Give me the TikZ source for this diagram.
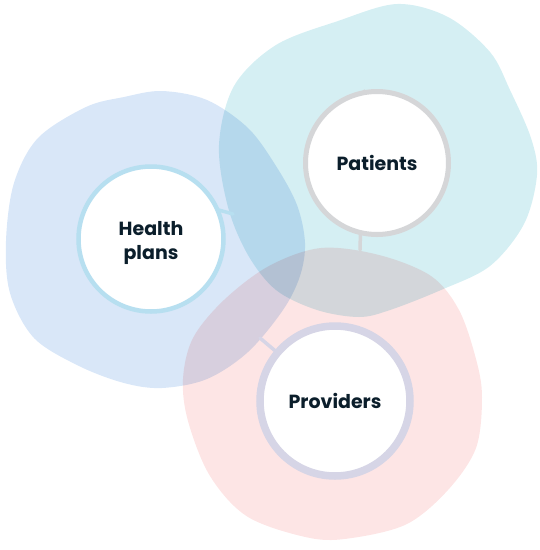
\documentclass[tikz,border=0pt]{standalone}
\usepackage{fontspec}
\setmainfont{Poppins}
\begin{document}
\begin{tikzpicture}[x=1pt, y=-1pt,
    blob/.style={blend mode=multiply, draw=none},
    hub/.style={circle, fill=white, line width=#1, inner sep=0pt, align=center,
        font=\fontsize{19}{24}\selectfont\bfseries, text=textColour},
    neck/.style={line width=3.5pt, line cap=round}]
    \definecolor{textColour}{HTML}{0B1E2B}
    \definecolor{fillBlue}{HTML}{D9E7F8}
    \definecolor{fillTeal}{HTML}{D5EFF3}
    \definecolor{fillPink}{HTML}{FDE5E5}
    \definecolor{ringBlue}{HTML}{B7DFF0}
    \definecolor{ringGrey}{HTML}{D5D6D8}
    \definecolor{ringLilac}{HTML}{D6D5E6}

    \useasboundingbox (0,0) rectangle (540,550);

    % Draw blobs
    \fill[blob, fillBlue] plot[smooth cycle, tension=0.55] coordinates {
        (162,91) (207,100) (248,128) (276,166) (297,205) (305,243) (300,276)
        (283,310) (248,352) (207,379) (162,388) (124,383) (79,366) (34,338)
        (10,293) (6,241) (14,183) (38,138) (86,107) (124,97)};
    \fill[blob, fillTeal] plot[smooth cycle, tension=0.55] coordinates {
        (397,4) (448,17) (490,52) (510,90) (531,138) (537,175) (524,224)
        (490,266) (441,290) (390,310) (359,317) (317,310) (276,290) (248,255)
        (228,207) (219,145) (234,86) (276,45) (338,21)};
    \fill[blob, fillPink] plot[smooth cycle, tension=0.55] coordinates {
        (321,248) (379,255) (431,276) (459,310) (476,359) (482,397) (476,448)
        (448,490) (407,524) (352,538) (310,538) (248,517) (210,476) (188,421)
        (183,379) (193,338) (224,300) (269,266)};

    % Edge points where the necks meet the blobs
    \coordinate (plansEdge) at (233,214);
    \coordinate (patientsEdge) at (360,250);
    \coordinate (providersEdge) at (260,338);

    % Draw necks
    \draw[neck, ringBlue] (151,239) ++(-23:74) -- (plansEdge);
    \draw[neck, ringGrey] (377,163) ++(-100:73) -- (patientsEdge);
    \draw[neck, ringLilac] (335,401) ++(-140:77) -- (providersEdge);

    % Draw hubs
    \node[hub=4.5pt, draw=ringBlue, minimum size=145pt] (plans) at (151,239) {};
    \node[font=\fontsize{19}{24}\selectfont\bfseries, text=textColour, align=center]
        (plansText) at (plans.center) [yshift=-4pt] {Health\\plans};
    \node[hub=5pt, draw=ringGrey, minimum size=143pt] (patients) at (377,163) {Patients};
    \node[hub=7.5pt, draw=ringLilac, minimum size=150pt] (providers) at (335,401) {Providers};

\end{tikzpicture}
\end{document}
